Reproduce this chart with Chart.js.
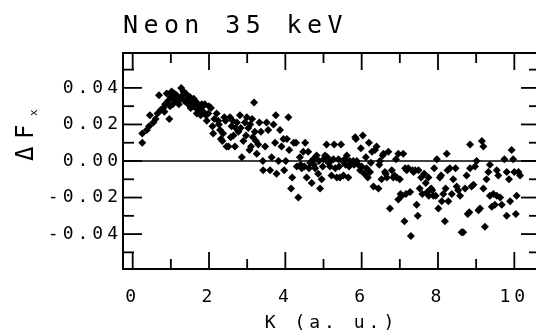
<!DOCTYPE html>
<html>
<head>
<meta charset="utf-8">
<script src="https://cdn.jsdelivr.net/npm/chart.js@4/dist/chart.umd.min.js"></script>
<style>
html, body { margin: 0; padding: 0; background: #fff; overflow: hidden; }
canvas { display: block; }
</style>
</head>
<body>
<canvas id="chart" width="560" height="331"></canvas>
<script>
let chartTitle = "Neon 35 keV";
let xTitle = "K (a. u.)";
let yTitle = ["Δ", "F"];
let ySub = "x";

let xTicks = [0, 2, 4, 6, 8, 10];
let xMinor = [1, 3, 5, 7, 9];
let yTicks = [-0.04, -0.02, 0, 0.02, 0.04];
let yMinor = [-0.05, -0.03, -0.01, 0.01, 0.03, 0.05];

// K (a.u.) and delta F_x
let kValues = [
  0.25, 0.25, 0.37, 0.43, 0.45, 0.54, 0.60, 0.65, 0.69, 0.74, 0.80, 0.85, 0.89, 0.93, 0.96,
  1.00, 1.05, 1.09, 1.13, 1.18, 1.21, 1.27, 1.30, 1.35, 1.39, 1.44, 1.46, 1.50, 1.55, 1.59,
  1.63, 1.68, 1.72, 1.76, 1.81, 1.85, 1.89, 1.94, 1.98, 2.05, 2.09, 2.11, 2.14,
  1.02, 1.15, 1.24, 1.33, 1.41, 1.52, 1.60, 1.70, 1.78, 1.84, 1.92, 2.00, 0.83, 0.98, 1.07,
  2.20, 2.24, 2.29, 2.31, 2.35, 2.40, 2.46, 2.51, 2.55, 2.59, 2.64, 2.68, 2.73, 2.77, 2.81,
  2.86, 2.90, 2.94, 2.99, 3.03, 3.06, 3.10, 3.13, 3.18, 3.20, 3.23, 3.25, 3.29, 3.32, 3.36,
  3.41, 3.42, 3.47, 3.51, 3.55, 3.60, 3.64, 3.69, 3.73, 3.75, 3.77, 3.82, 3.86, 3.90, 3.95,
  3.97, 4.01, 4.04, 4.08, 4.10, 4.15, 4.18, 4.22,
  2.26, 2.37, 2.43, 2.57, 2.62, 2.70, 2.83, 2.97, 3.08, 3.15,
  4.28, 4.30, 4.34, 4.38, 4.43, 4.47, 4.52, 4.56, 4.60, 4.65, 4.69, 4.73, 4.78, 4.82, 4.86,
  4.91, 4.95, 5.00, 5.04, 5.08, 5.13, 5.17, 5.21, 5.26, 5.28, 5.35, 5.39, 5.43, 5.46, 5.52,
  5.56, 5.61, 5.65, 5.69, 5.74, 5.78, 5.83, 5.87, 5.91, 5.96, 5.98, 6.03, 6.07, 6.11, 6.16,
  6.19, 6.24, 6.31,
  4.40, 4.50, 4.62, 4.75, 4.88, 4.98, 5.10, 5.19, 5.31, 5.41, 5.50, 5.58, 5.67, 5.80, 5.85,
  6.00, 6.13, 6.22, 6.27,
  6.39, 6.44, 6.48, 6.52, 6.57, 6.61, 6.66, 6.70, 6.74, 6.79, 6.83, 6.90, 6.92, 6.96, 6.96,
  7.00, 7.05, 7.09, 7.12, 7.14, 7.18, 7.22, 7.27, 7.29, 7.33, 7.40, 7.44, 7.47, 7.49, 7.56,
  7.59, 7.64, 7.68, 7.75, 7.76, 7.82, 7.88, 7.90, 7.94, 7.97, 8.01, 8.05, 8.10, 8.14, 8.18,
  8.20, 8.23, 8.27, 8.31, 8.36, 8.40,
  6.35, 6.46, 6.55, 6.63, 6.86, 7.02, 7.16, 7.36, 7.52, 7.72, 7.85, 8.08, 8.25,
  8.46, 8.49, 8.53, 8.58, 8.62, 8.66, 8.71, 8.75, 8.78, 8.82, 8.84, 8.84, 8.88, 8.93, 8.97,
  9.01, 9.06, 9.10, 9.15, 9.19, 9.19, 9.23, 9.27, 9.32, 9.36, 9.36, 9.41, 9.45, 9.49, 9.54,
  9.54, 9.58, 9.63, 9.67, 9.74, 9.80, 9.80, 9.86, 9.89, 9.93, 9.97, 10.00, 10.04, 10.06, 10.11,
  10.15
];
let dfValues = [
  0.010, 0.015, 0.017, 0.019, 0.025, 0.021, 0.023, 0.026, 0.036, 0.028, 0.029, 0.031, 0.037, 0.033, 0.023,
  0.035, 0.031, 0.037, 0.033, 0.035, 0.031, 0.040, 0.036, 0.033, 0.037, 0.034, 0.031, 0.035, 0.032, 0.030,
  0.033, 0.026, 0.031, 0.028, 0.031, 0.027, 0.031, 0.022, 0.026, 0.029, 0.019, 0.015, 0.023,
  0.038, 0.036, 0.034, 0.038, 0.032, 0.029, 0.034, 0.028, 0.025, 0.030, 0.025, 0.030, 0.027, 0.030, 0.034,
  0.026, 0.022, 0.017, 0.012, 0.011, 0.024, 0.008, 0.008, 0.024, 0.019, 0.014, 0.008, 0.021, 0.016, 0.025,
  0.002, 0.011, 0.021, 0.024, 0.018, 0.006, 0.008, 0.023, 0.032, 0.016, 0.011, 0.004, 0.009, 0.021, 0.016,
  0.000, -0.005, 0.008, 0.021, 0.017, -0.005, 0.002, 0.020, 0.010, 0.025, -0.007, 0.000, 0.017, 0.008, 0.012,
  -0.005, 0.000, 0.012, 0.024, 0.006, -0.015, -0.009, 0.010,
  0.020, 0.015, 0.022, 0.013, 0.022, 0.018, 0.018, 0.014, 0.020, 0.013,
  0.010, -0.003, -0.020, 0.002, -0.004, 0.005, 0.010, -0.009, 0.005, -0.001, -0.012, 0.001, -0.004, 0.003, -0.007,
  -0.015, -0.010, 0.001, 0.003, 0.009, -0.001, -0.003, -0.008, 0.001, 0.009, -0.009, 0.001, -0.009, 0.009, -0.008,
  0.001, 0.003, -0.009, 0.000, -0.001, 0.000, 0.013, 0.000, -0.002, -0.005, 0.007, 0.014, -0.007, 0.002, -0.009,
  0.010, -0.001, -0.014,
  -0.002, -0.003, -0.004, -0.002, 0.000, -0.003, 0.002, 0.000, -0.004, -0.003, 0.000, -0.002, -0.003, -0.002, 0.012,
  -0.003, -0.004, -0.006, 0.005,
  0.008, -0.015, 0.000, -0.010, 0.004, -0.006, -0.009, 0.005, -0.026, -0.005, -0.009, 0.001, -0.009, 0.004, -0.021,
  -0.010, -0.019, 0.004, -0.033, -0.004, -0.005, -0.004, -0.017, -0.041, -0.005, -0.005, -0.024, -0.030, -0.005, -0.009,
  -0.018, -0.007, -0.012, -0.009, -0.019, -0.015, -0.019, -0.004, -0.019, 0.001, -0.026, -0.009, -0.022, -0.018, -0.033,
  -0.015, 0.004, -0.022, -0.004, -0.018, -0.010,
  0.006, -0.002, 0.003, -0.007, -0.008, -0.018, -0.018, -0.006, -0.015, -0.017, -0.016, -0.008, -0.005,
  -0.004, -0.014, -0.016, -0.019, -0.039, -0.039, -0.015, -0.008, -0.029, -0.028, 0.009, -0.004, -0.014, -0.013, -0.003,
  0.000, -0.027, -0.026, 0.011, 0.008, -0.015, -0.036, -0.010, -0.006, -0.002, -0.019, -0.025, -0.018, -0.024, -0.019,
  -0.005, -0.008, -0.020, -0.024, 0.001, -0.030, -0.006, -0.010, -0.022, 0.006, 0.001, -0.006, -0.029, -0.019, -0.006,
  -0.008
];

let monoFont = "'DejaVu Sans Mono', monospace";

let line = (ctx, x1, y1, x2, y2) => {
  ctx.beginPath();
  ctx.moveTo(x1, y1);
  ctx.lineTo(x2, y2);
  ctx.stroke();
};

// frame with inward ticks, zero line, titles
let framePlugin = {
  id: "frame",
  beforeDraw: (chart) => {
    chart.ctx.letterSpacing = "4px";
  },
  afterDraw: (chart) => {
    let ctx = chart.ctx;
    let a = chart.chartArea;
    let sx = chart.scales.x;
    let sy = chart.scales.y;
    ctx.save();
    ctx.strokeStyle = "#000";
    ctx.fillStyle = "#000";

    ctx.lineWidth = 1.3;
    let y0 = sy.getPixelForValue(0);
    line(ctx, a.left, y0, a.right, y0);

    ctx.lineWidth = 2;
    ctx.strokeRect(a.left, a.top, a.right - a.left, a.bottom - a.top);

    ctx.lineWidth = 1.8;
    let tickX = (v, len) => {
      let px = sx.getPixelForValue(v);
      line(ctx, px, a.bottom, px, a.bottom - len);
      line(ctx, px, a.top, px, a.top + len);
    };
    let tickY = (v, len) => {
      let py = sy.getPixelForValue(v);
      line(ctx, a.left, py, a.left + len, py);
      line(ctx, a.right, py, a.right - len, py);
    };
    xTicks.forEach(v => tickX(v, 17));
    xMinor.forEach(v => tickX(v, 10));
    yTicks.forEach(v => tickY(v, 19));
    yMinor.forEach(v => tickY(v, 11));

    ctx.letterSpacing = "5.4px";
    ctx.font = "25px " + monoFont;
    ctx.textAlign = "left";
    ctx.textBaseline = "alphabetic";
    ctx.fillText(chartTitle, a.left, 33);

    ctx.translate(33, 161);
    ctx.rotate(-Math.PI / 2);
    ctx.letterSpacing = "0px";
    ctx.font = "24px " + monoFont;
    ctx.fillText(yTitle[0], 0, 0);
    ctx.fillText(yTitle[1], 22, 0);
    ctx.font = "11px " + monoFont;
    ctx.fillText(ySub, 45, 4);
    ctx.restore();
  }
};

let points = kValues.map((k, i) => ({x: k, y: dfValues[i]}));

let chart = new Chart(document.getElementById("chart"), {
  type: "scatter",
  data: {
    datasets: [{
      data: points,
      pointStyle: "rectRot",
      pointRadius: 4,
      pointBackgroundColor: "#000",
      pointBorderWidth: 0
    }]
  },
  options: {
    responsive: false,
    animation: false,
    devicePixelRatio: 1,
    layout: {padding: {top: 53, right: 20, left: 0, bottom: 0}},
    plugins: {legend: {display: false}, tooltip: {enabled: false}},
    scales: {
      x: {
        type: "linear",
        min: -0.254,
        max: 10.673,
        afterBuildTicks: (s) => { s.ticks = xTicks.map(v => ({value: v})); },
        afterFit: (s) => { s.height = 62; },
        grid: {display: false},
        border: {display: false},
        ticks: {color: "#000", font: {family: monoFont, size: 18}, padding: 10, maxRotation: 0, autoSkip: false,
          callback: (v) => String(v)},
        title: {display: true, text: xTitle, color: "#000", font: {family: monoFont, size: 18}, padding: {top: 0, bottom: -3}}
      },
      y: {
        type: "linear",
        min: -0.0591,
        max: 0.0591,
        afterBuildTicks: (s) => { s.ticks = yTicks.map(v => ({value: v})); },
        afterFit: (s) => { s.width = 123; },
        grid: {display: false},
        border: {display: false},
        ticks: {color: "#000", font: {family: monoFont, size: 18}, padding: -7, autoSkip: false,
          callback: (v) => v.toFixed(2)}
      }
    }
  },
  plugins: [framePlugin]
});
</script>
</body>
</html>
